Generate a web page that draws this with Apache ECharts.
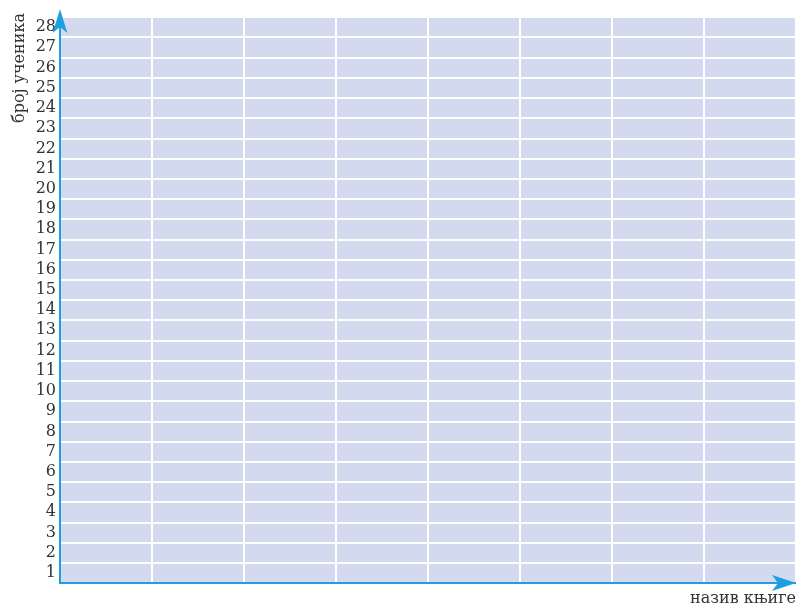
<!DOCTYPE html>
<html>
<head>
<meta charset="utf-8">
<script src="https://cdn.jsdelivr.net/npm/echarts@6/dist/echarts.min.js"></script>
<style>html,body{margin:0;padding:0;background:#fff;overflow:hidden}#c{width:796px;height:608px}</style>
</head>
<body>
<div id="c"></div>
<script>
const yCategories = ['1','2','3','4','5','6','7','8','9','10','11','12','13','14','15','16','17','18','19','20','21','22','23','24','25','26','27','28'];
const xCategories = ['', '', '', '', '', '', '', ''];
const seriesValues = [];
const yAxisName = 'број ученика';
const xAxisName = 'назив књиге';

const blue = '#1ea0e0';
const font = 'DejaVu Serif';
const chart = echarts.init(document.getElementById('c'));
chart.setOption({
  animation: false,
  grid: {left: 60, right: 0, top: 17, bottom: 25, show: true, backgroundColor: '#d3d9ee', borderWidth: 0, outerBoundsMode: 'none', containLabel: false},
  xAxis: {
    type: 'category', data: xCategories, boundaryGap: true,
    name: xAxisName, nameLocation: 'end', nameGap: 0,
    nameTextStyle: {fontFamily: font, fontSize: 16, color: '#333', align: 'right', verticalAlign: 'top', padding: [8, 0, 0, 0]},
    axisLine: {lineStyle: {color: blue, width: 2}, symbol: ['none', 'arrow'], symbolSize: [12, 24], symbolOffset: [0, 0]},
    axisTick: {show: false}, axisLabel: {show: false},
    splitLine: {show: true, interval: 0, lineStyle: {color: '#ffffff', width: 2}}
  },
  yAxis: {
    type: 'category', data: yCategories, boundaryGap: true,
    axisLine: {lineStyle: {color: blue, width: 2}, symbol: ['none', 'arrow'], symbolSize: [11, 24], symbolOffset: [0, 8]},
    axisTick: {show: false},
    axisLabel: {interval: 0, fontFamily: font, fontSize: 16, color: '#333', margin: 4},
    splitLine: {show: true, interval: 0, lineStyle: {color: '#ffffff', width: 2}}
  },
  graphic: [{
    type: 'text', x: 20, y: 68, rotation: Math.PI / 2,
    style: {text: yAxisName, fontFamily: font, fontSize: 16, fill: '#333', align: 'center', verticalAlign: 'middle'}
  }],
  series: [{type: 'bar', data: seriesValues}]
});
</script>
</body>
</html>
